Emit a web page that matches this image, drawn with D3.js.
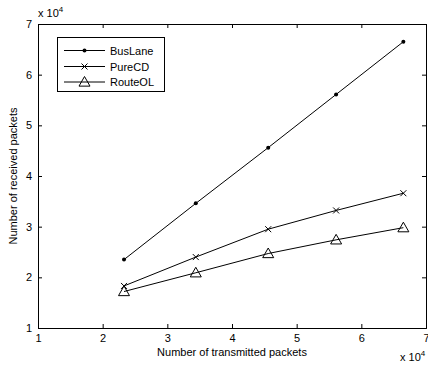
<!DOCTYPE html>
<html><head><meta charset="utf-8">
<script src="https://cdn.jsdelivr.net/npm/d3@7/dist/d3.min.js"></script>
<style>body{margin:0;background:#fff;} text{font-family:"Liberation Sans",Arial,sans-serif;}</style>
</head><body>
<script>
const xValues = [2.33, 3.44, 4.56, 5.61, 6.65];
const busLane = [2.35, 3.46, 4.56, 5.61, 6.65];
const pureCD = [1.83, 2.40, 2.95, 3.32, 3.66];
const routeOL = [1.72, 2.09, 2.47, 2.74, 2.98];
const seriesNames = ["BusLane", "PureCD", "RouteOL"];
const xTicks = [1, 2, 3, 4, 5, 6, 7];
const yTicks = [1, 2, 3, 4, 5, 6, 7];

const W = 428, H = 368;
const L = 38, R = 426, T = 24, B = 328;
const svg = d3.select("body").append("svg").attr("width", W).attr("height", H);
const x = d3.scaleLinear().domain([1, 7]).range([L, R]);
const y = d3.scaleLinear().domain([1, 7]).range([B, T]);

const fs = 11;
// axes
svg.append("g").attr("transform", `translate(0,${B})`)
  .call(d3.axisBottom(x).tickValues(xTicks).tickSize(-4).tickPadding(6).tickFormat(d3.format("d")))
  .call(g => g.selectAll("text").attr("font-size", fs).attr("fill", "#000"));
svg.append("g").attr("transform", `translate(0,${T})`)
  .call(d3.axisTop(x).tickValues(xTicks).tickSize(-4).tickFormat(""));
svg.append("g").attr("transform", `translate(${L},0)`)
  .call(d3.axisLeft(y).tickValues(yTicks).tickSize(-4).tickPadding(6).tickFormat(d3.format("d")))
  .call(g => g.selectAll("text").attr("font-size", fs).attr("fill", "#000"));
svg.append("g").attr("transform", `translate(${R},0)`)
  .call(d3.axisRight(y).tickValues(yTicks).tickSize(-4).tickFormat(""));
svg.selectAll(".domain").attr("stroke", "#000");
svg.selectAll(".tick line").attr("stroke", "#000");

const data = [busLane, pureCD, routeOL];
const line = d3.line().x((d, i) => x(xValues[i])).y(d => y(d));
const g = svg.append("g");
data.forEach((s, k) => {
  g.append("path").attr("d", line(s)).attr("fill", "none").attr("stroke", "#000").attr("stroke-width", 1);
});

function marker(sel, k, cx, cy) {
  if (k === 0) {
    sel.append("circle").attr("cx", cx).attr("cy", cy).attr("r", 2).attr("fill", "#000");
  } else if (k === 1) {
    const s = 3;
    sel.append("path").attr("d", `M${cx-s},${cy-s}L${cx+s},${cy+s}M${cx-s},${cy+s}L${cx+s},${cy-s}`)
      .attr("stroke", "#000").attr("stroke-width", 1);
  } else {
    const s = 5.5;
    sel.append("path").attr("d", `M${cx},${cy-s}L${cx+s},${cy+s*0.75}L${cx-s},${cy+s*0.75}Z`)
      .attr("fill", "none").attr("stroke", "#000").attr("stroke-width", 1);
  }
}
data.forEach((s, k) => {
  s.forEach((v, i) => marker(g, k, x(xValues[i]), y(v)));
});

// legend
const lg = svg.append("g");
lg.append("rect").attr("x", 57.5).attr("y", 37.5).attr("width", 107).attr("height", 54)
  .attr("fill", "#fff").attr("stroke", "#000");
const rows = [50.5, 66.5, 82];
seriesNames.forEach((n, k) => {
  lg.append("line").attr("x1", 64).attr("x2", 105).attr("y1", rows[k]).attr("y2", rows[k]).attr("stroke", "#000");
  marker(lg, k, 84.5, rows[k]);
  lg.append("text").attr("x", 110).attr("y", rows[k] + 4).attr("font-size", fs).text(n);
});

// labels
svg.append("text").attr("x", (L + R) / 2).attr("y", 356).attr("text-anchor", "middle").attr("font-size", fs)
  .text("Number of transmitted packets");
svg.append("text").attr("transform", `translate(17,${(T + B) / 2}) rotate(-90)`).attr("text-anchor", "middle")
  .attr("font-size", fs).text("Number of received packets");

function expo(xp, yp) {
  const t = svg.append("text").attr("x", xp).attr("y", yp).attr("font-size", fs);
  t.append("tspan").text("x 10");
  t.append("tspan").attr("dy", -5).attr("font-size", 8).text("4");
}
expo(38, 17);
expo(400, 361);
</script>
</body></html>
